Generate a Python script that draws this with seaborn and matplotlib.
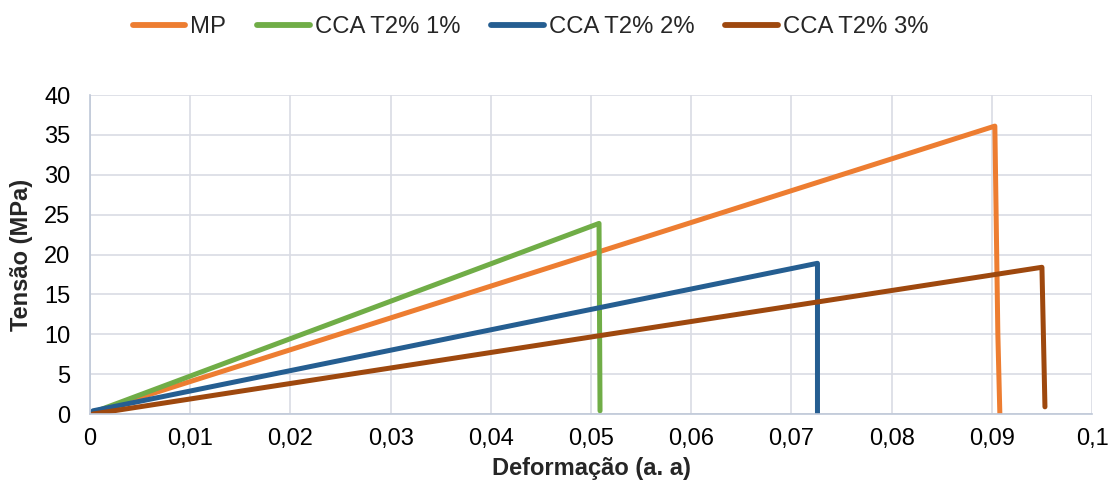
import matplotlib
matplotlib.use("Agg")
import matplotlib.pyplot as plt
import matplotlib.ticker as mticker
import seaborn as sns
import pandas as pd

# Stress-strain curves: (strain, stress) points for each mix
mp_x = [0.0003, 0.0903, 0.0906, 0.0908]
mp_y = [0.2, 36.1, 10.0, 0.0]

cca1_x = [0.0003, 0.0508, 0.0509]
cca1_y = [0.2, 23.9, 0.4]

cca2_x = [0.0003, 0.0726, 0.0726]
cca2_y = [0.4, 18.9, 0.1]

cca3_x = [0.0003, 0.0950, 0.0953]
cca3_y = [0.0, 18.4, 0.9]

series_names = ["MP", "CCA T2% 1%", "CCA T2% 2%", "CCA T2% 3%"]
series_colors = ["#ED7D31", "#70AD47", "#255E91", "#9E480E"]

x_ticks = [0.0, 0.01, 0.02, 0.03, 0.04, 0.05, 0.06, 0.07, 0.08, 0.09, 0.1]
y_ticks = [0, 5, 10, 15, 20, 25, 30, 35, 40]

frames = []
for name, xs, ys in zip(series_names,
                        [mp_x, cca1_x, cca2_x, cca3_x],
                        [mp_y, cca1_y, cca2_y, cca3_y]):
    frames.append(pd.DataFrame({"Deformação": xs, "Tensão": ys,
                                "Série": name, "ordem": range(len(xs))}))
df = pd.concat(frames, ignore_index=True)

sns.set_theme(style="white")
plt.rcParams["font.family"] = ["Liberation Sans", "DejaVu Sans"]

fig = plt.figure(figsize=(11.08, 4.91), dpi=100)
ax = fig.add_axes([0.0812, 0.1568, 0.9044, 0.6497])

sns.lineplot(data=df, x="Deformação", y="Tensão", hue="Série",
             hue_order=series_names, palette=series_colors,
             sort=False, estimator=None, units="Série",
             linewidth=3.6, ax=ax, legend=True)
for line in ax.lines:
    line.set_solid_capstyle("round")
    line.set_solid_joinstyle("round")

ax.set_xlim(0, 0.1)
ax.set_ylim(0, 40)
ax.set_xticks(x_ticks)
ax.set_yticks(y_ticks)
ax.xaxis.set_major_formatter(mticker.FuncFormatter(
    lambda v, p: "0" if abs(v) < 1e-12 else (f"{v:.2f}".rstrip("0").rstrip(".")).replace(".", ",")))
ax.tick_params(axis="both", labelsize=17, colors="#000000", length=0)
ax.tick_params(axis="x", pad=10)
ax.tick_params(axis="y", pad=14)
ax.grid(True, color="#D9DCE4", linewidth=1.2)
ax.set_axisbelow(True)
for side in ["top", "right"]:
    ax.spines[side].set_visible(False)
for side in ["left", "bottom"]:
    ax.spines[side].set_color("#BFC8D8")
    ax.spines[side].set_linewidth(1.2)

ax.set_xlabel("Deformação (a. a)", fontsize=17, fontweight="bold", labelpad=5)
ax.set_ylabel("Tensão (MPa)", fontsize=17, fontweight="bold", labelpad=8)

handles, labels = ax.get_legend_handles_labels()
ax.legend(handles, labels, loc="center", bbox_to_anchor=(0.4396, 1.213),
          ncol=4, frameon=False, fontsize=17.2, handlelength=2.2,
          handletextpad=0.2, columnspacing=1.3,
          borderpad=0, borderaxespad=0)
for h in ax.get_legend().get_lines():
    h.set_linewidth(4.2)
    h.set_solid_capstyle("round")

fig.savefig("out.png", dpi=100)
